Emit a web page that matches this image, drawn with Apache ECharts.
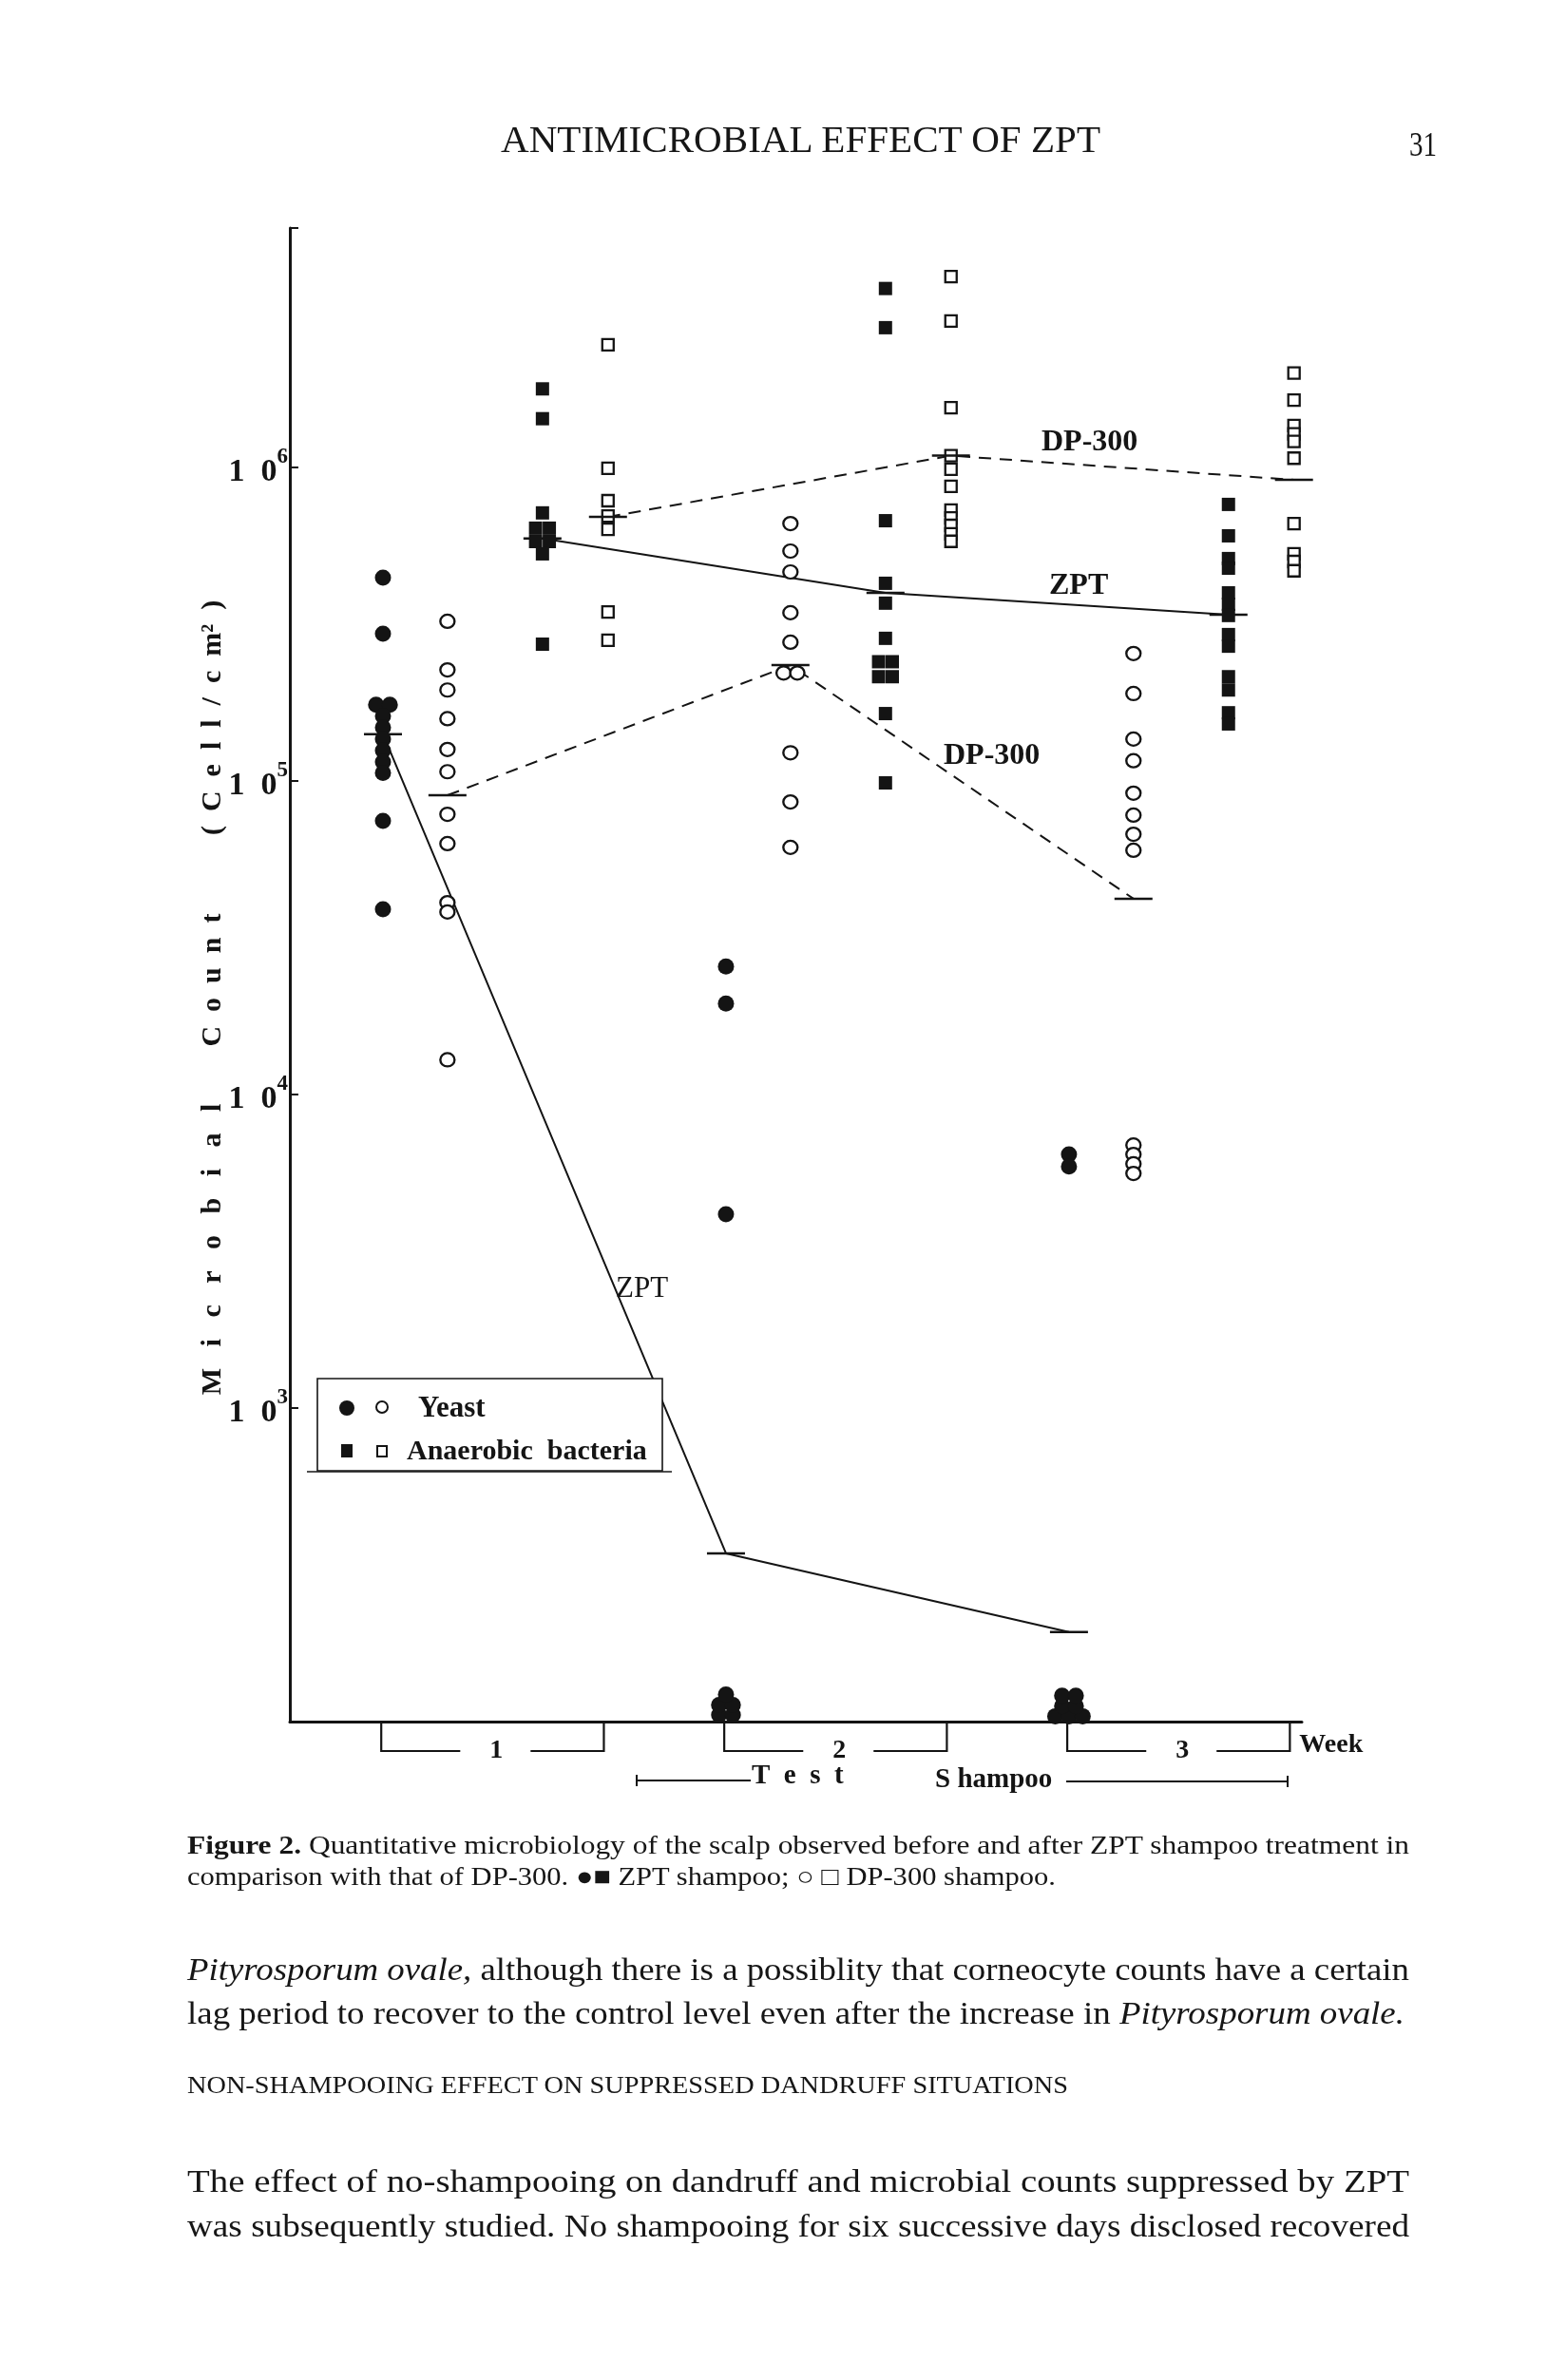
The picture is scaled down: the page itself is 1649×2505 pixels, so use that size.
<!DOCTYPE html>
<html><head><meta charset="utf-8"><title>Antimicrobial effect of ZPT</title>
<script src="https://cdn.jsdelivr.net/npm/echarts@6/dist/echarts.min.js"></script>
<style>
html,body{margin:0;padding:0;background:#fff;}
#page{position:relative;width:1649px;height:2505px;overflow:hidden;background:#fff;}
#chart{position:absolute;left:0;top:0;width:1649px;height:2505px;}
.ln{position:absolute;left:197px;white-space:nowrap;font-family:"Liberation Serif","Times New Roman",serif;color:#161616;line-height:1;transform-origin:0 0;z-index:2;}
</style></head><body>
<div id="page">
<div id="chart"></div>
<div class="ln" data-w="631" style="left:527px;top:127px;font-size:40px;">ANTIMICROBIAL EFFECT OF ZPT</div>
<div class="ln" data-w="29" style="left:1483px;top:134px;font-size:36px;">31</div>
<div class="ln" data-w="1286" style="top:1929px;font-size:27px;"><b>Figure 2.</b> Quantitative microbiology of the scalp observed before and after ZPT shampoo treatment in</div>
<div class="ln" data-w="914" style="top:1962px;font-size:27px;">comparison with that of DP-300. ●■ ZPT shampoo; ○ □ DP-300 shampoo.</div>
<div class="ln" data-w="1286" style="top:2057px;font-size:33px;"><i>Pityrosporum ovale,</i> although there is a possiblity that corneocyte counts have a certain</div>
<div class="ln" data-w="1281" style="top:2103px;font-size:33px;">lag period to recover to the control level even after the increase in <i>Pityrosporum ovale.</i></div>
<div class="ln" data-w="927" style="top:2182px;font-size:26px;">NON-SHAMPOOING EFFECT ON SUPPRESSED DANDRUFF SITUATIONS</div>
<div class="ln" data-w="1286" style="top:2280px;font-size:33px;">The effect of no-shampooing on dandruff and microbial counts suppressed by ZPT</div>
<div class="ln" data-w="1286" style="top:2327px;font-size:33px;">was subsequently studied. No shampooing for six successive days disclosed recovered</div>
</div>
<script>
// ---------------- data (cells / cm2) ----------------
const weeks = [1, 2, 3];
const weekLabels = ['1', '2', '3'];
const yTickValues = [1e3, 1e4, 1e5, 1e6];

// ZPT shampoo – yeast (filled circles)
const zptYeastW1 = [4.45e5, 2.95e5, 1.75e5, 1.75e5, 1.61e5, 1.48e5, 1.36e5, 1.25e5, 1.15e5, 1.06e5, 7.46e4, 3.90e4];
const zptYeastW2 = [2.56e4, 1.95e4, 4.15e3, 105, 105, 113, 113, 122];
const zptYeastW3 = [6.44e3, 5.89e3, 104, 104, 104, 112, 112, 121, 121];
// DP-300 shampoo – yeast (open circles)
const dpYeastW1 = [3.23e5, 2.26e5, 1.95e5, 1.58e5, 1.26e5, 1.07e5, 7.83e4, 6.31e4, 4.09e4, 3.82e4, 1.29e4];
const dpYeastW2 = [6.62e5, 5.41e5, 4.64e5, 3.44e5, 2.77e5, 2.21e5, 2.21e5, 1.23e5, 8.57e4, 6.14e4];
const dpYeastW3 = [2.55e5, 1.90e5, 1.36e5, 1.16e5, 9.14e4, 7.78e4, 6.76e4, 6.01e4, 6.90e3, 6.44e3, 6.01e3, 5.60e3];
// ZPT shampoo – anaerobic bacteria (filled squares)
const zptBactW1 = [1.78e6, 1.43e6, 7.16e5, 6.4e5, 6.4e5, 5.8e5, 5.8e5, 5.3e5, 2.73e5];
const zptBactW2 = [3.72e6, 2.79e6, 6.76e5, 4.27e5, 3.69e5, 2.85e5, 2.4e5, 2.4e5, 2.15e5, 2.15e5, 1.64e5, 9.86e4];
const zptBactW3 = [7.62e5, 6.05e5, 5.12e5, 4.77e5, 3.98e5, 3.66e5, 3.37e5, 2.93e5, 2.69e5, 2.15e5, 1.95e5, 1.65e5, 1.52e5];
// DP-300 shampoo – anaerobic bacteria (open squares)
const dpBactW1 = [2.46e6, 9.93e5, 7.83e5, 7.0e5, 6.35e5, 3.46e5, 2.81e5];
const dpBactW2 = [4.06e6, 2.93e6, 1.55e6, 1.09e6, 9.86e5, 8.70e5, 7.31e5, 6.90e5, 6.53e5, 6.14e5, 5.81e5];
const dpBactW3 = [2.0e6, 1.64e6, 1.36e6, 1.28e6, 1.21e6, 1.07e6, 6.62e5, 5.30e5, 5.01e5, 4.68e5];
// group means (horizontal bars joined by lines)
const zptYeastMean = [1.41e5, 344, 193];
const dpYeastMean = [9.0e4, 2.34e5, 4.21e4];
const zptBactMean = [5.93e5, 3.98e5, 3.39e5];
const dpBactMean = [6.95e5, 1.09e6, 9.13e5];

// ---------------- layout / style ----------------
const FONT = '"Liberation Serif","Times New Roman",serif';
const INK = '#141414';
const COL = { zptYeast: 0, dpYeast: 0.188, zptBact: 0.465, dpBact: 0.656 }; // column offset inside a week
const DODGE = 0.04;

function points(perWeek, off) {
  const out = [];
  perWeek.forEach((vals, i) => {
    const w = weeks[i];
    const cnt = {}; vals.forEach(v => cnt[v] = (cnt[v] || 0) + 1);
    const seen = {};
    vals.forEach(v => {
      const n = cnt[v]; const k = (seen[v] = (seen[v] || 0) + 1) - 1;
      const d = n > 1 ? (k - (n - 1) / 2) * DODGE : 0;
      out.push([w + off + d, v]);
    });
  });
  return out;
}
function meanPts(arr, off) { return weeks.map((w, i) => [w + off, arr[i]]); }

const chart = echarts.init(document.getElementById('chart'), null, { renderer: 'canvas' });

const lineBase = { type: 'line', symbol: 'none', silent: true, z: 1, animation: false };
const option = {
  animation: false,
  backgroundColor: 'transparent',
  grid: { left: 305, top: 240, width: 1065, height: 1572, containLabel: false },
  xAxis: {
    type: 'value', min: 0.7285, max: 3.679,
    axisLine: { show: true, lineStyle: { color: INK, width: 3 } },
    axisTick: { show: false }, axisLabel: { show: false }, splitLine: { show: false }
  },
  yAxis: {
    type: 'log', logBase: 10, min: 100, max: 5.8e6,
    axisLine: { show: true, lineStyle: { color: INK, width: 3 } },
    axisTick: { show: true, inside: true, length: 9, lineStyle: { color: INK, width: 2 } },
    splitLine: { show: false },
    axisLabel: {
      margin: 2,
      formatter: function (v) {
        const e = Math.round(Math.log10(v));
        if (yTickValues.indexOf(Math.pow(10, e)) < 0) return '';
        return '{b|1  0}{s|' + e + '}';
      },
      rich: {
        b: { fontFamily: FONT, fontSize: 34, fontWeight: 'bold', color: INK, lineHeight: 44, verticalAlign: 'bottom' },
        s: { fontFamily: FONT, fontSize: 23, fontWeight: 'bold', color: INK, lineHeight: 23, verticalAlign: 'top' }
      }
    }
  },
  series: [
    Object.assign({}, lineBase, { name: 'ZPT yeast mean line', data: meanPts(zptYeastMean, COL.zptYeast), lineStyle: { color: INK, width: 2 } }),
    Object.assign({}, lineBase, { name: 'DP-300 yeast mean line', data: meanPts(dpYeastMean, COL.dpYeast), lineStyle: { color: INK, width: 2, type: [13, 9] } }),
    Object.assign({}, lineBase, { name: 'ZPT bacteria mean line', data: meanPts(zptBactMean, COL.zptBact), lineStyle: { color: INK, width: 2 } }),
    Object.assign({}, lineBase, { name: 'DP-300 bacteria mean line', data: meanPts(dpBactMean, COL.dpBact), lineStyle: { color: INK, width: 2, type: [13, 9] } }),
    { type: 'scatter', name: 'ZPT yeast', clip: false, z: 3, symbol: 'circle', symbolSize: 17,
      itemStyle: { color: INK, opacity: 1 }, data: points([zptYeastW1, zptYeastW2, zptYeastW3], COL.zptYeast) },
    { type: 'scatter', name: 'DP-300 yeast', clip: false, z: 3, symbol: 'circle', symbolSize: [15, 14],
      itemStyle: { color: '#fff', borderColor: INK, borderWidth: 2.3, opacity: 1 }, data: points([dpYeastW1, dpYeastW2, dpYeastW3], COL.dpYeast) },
    { type: 'scatter', name: 'ZPT bacteria', clip: false, z: 3, symbol: 'rect', symbolSize: [14, 14],
      itemStyle: { color: INK, opacity: 1 }, data: points([zptBactW1, zptBactW2, zptBactW3], COL.zptBact) },
    { type: 'scatter', name: 'DP-300 bacteria', clip: false, z: 3, symbol: 'rect', symbolSize: [12, 12],
      itemStyle: { color: '#fff', borderColor: INK, borderWidth: 2.3, opacity: 1 }, data: points([dpBactW1, dpBactW2, dpBactW3], COL.dpBact) },
    { type: 'scatter', name: 'means', clip: false, z: 4, symbol: 'rect', symbolSize: [40, 2.5],
      itemStyle: { color: INK, opacity: 1 },
      data: [].concat(meanPts(zptYeastMean, COL.zptYeast), meanPts(dpYeastMean, COL.dpYeast),
                      meanPts(zptBactMean, COL.zptBact), meanPts(dpBactMean, COL.dpBact)) }
  ]
};
chart.setOption(option);

// ---------------- decorations anchored to the axes ----------------
const P = (x, y) => chart.convertToPixel({ gridIndex: 0 }, [x, y]);
const g = [];
const txt = (x, y, s, size, opt) => g.push(Object.assign({
  type: 'text', x: x, y: y, z: 10,
  style: Object.assign({ text: s, fill: INK, font: 'bold ' + size + 'px ' + FONT, textAlign: 'left', textVerticalAlign: 'middle' }, opt || {})
}));
const seg = (pts, w, dash) => g.push({ type: 'polyline', z: 10, shape: { points: pts },
  style: { stroke: INK, lineWidth: w || 2, fill: null, lineDash: dash || null } });

// week brackets
const baseY = P(1, 100)[1];
let lastRight = 0;
weeks.forEach((w, i) => {
  const left = P(w + COL.zptYeast - 0.005, 100)[0];
  const right = P(w + COL.dpBact - 0.012, 100)[0];
  const bot = baseY + 31;
  const cx = (left + right) / 2 + 4;
  seg([[left, baseY], [left, bot], [cx - 38, bot]], 2.2);
  seg([[cx + 36, bot], [right, bot], [right, baseY]], 2.2);
  txt(cx, bot, weekLabels[i], 28, { textAlign: 'center' });
  lastRight = right;
});
txt(lastRight + 10, baseY + 25, 'Week', 28);

// Test Shampoo period bar
seg([[670, 1874], [790, 1874]], 2.2);
seg([[670, 1868], [670, 1880]], 2);
txt(791, 1870, 'T  e  s  t', 29);
txt(984, 1874, 'S hampoo', 29);
seg([[1122, 1875], [1355, 1875]], 2.2);
seg([[1355, 1869], [1355, 1881]], 2);

// series annotations
txt(1096, 466, 'DP-300', 32);
txt(1104, 617, 'ZPT', 32);
txt(993, 796, 'DP-300', 32);
txt(648, 1357, 'ZPT', 31, { font: '31px ' + FONT });

// legend box
g.push({ type: 'rect', z: 9, shape: { x: 334, y: 1451, width: 363, height: 97 }, style: { fill: '#fff', stroke: INK, lineWidth: 1.6 } });
seg([[323, 1549], [707, 1549]], 1.6);
g.push({ type: 'circle', z: 10, shape: { cx: 365, cy: 1482, r: 8 }, style: { fill: INK } });
g.push({ type: 'circle', z: 10, shape: { cx: 402, cy: 1481, r: 6 }, style: { fill: '#fff', stroke: INK, lineWidth: 2 } });
txt(440, 1483, 'Yeast', 31);
g.push({ type: 'rect', z: 10, shape: { x: 359, y: 1520, width: 12, height: 14 }, style: { fill: INK } });
g.push({ type: 'rect', z: 10, shape: { x: 397, y: 1522, width: 10, height: 11 }, style: { fill: '#fff', stroke: INK, lineWidth: 2 } });
txt(428, 1528, 'Anaerobic  bacteria', 30);

// y axis title (rotated, letter-spaced)
g.push({ type: 'text', x: 224, y: 1050, rotation: Math.PI / 2, z: 10,
  style: { text: 'M   i   c   r   o   b   i   a   l        C  o  u  n  t           (  C  e  l  l  /  c  m²  )',
           fill: INK, font: 'bold 30px ' + FONT, textAlign: 'center', textVerticalAlign: 'middle' } });

chart.setOption({ graphic: g });

// fit prose lines to the measured page widths
document.querySelectorAll('.ln').forEach(el => {
  const w = el.getBoundingClientRect().width;
  const t = +el.dataset.w;
  if (w > 0) el.style.transform = 'scaleX(' + (t / w) + ')';
});
</script>
</body></html>
